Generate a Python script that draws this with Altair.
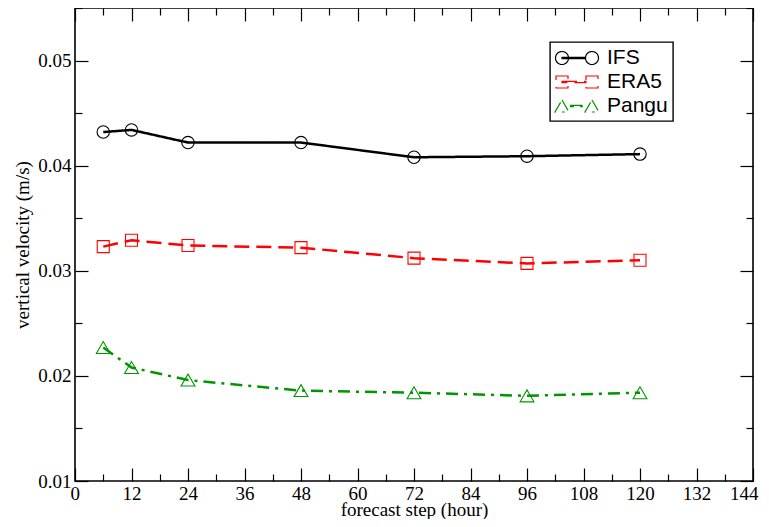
import altair as alt
import pandas as pd

# ---- data ----
steps = [6, 12, 24, 48, 72, 96, 120]
ifs = [0.0432, 0.0434, 0.0422, 0.0422, 0.0408, 0.0409, 0.0411]
era5 = [0.0323, 0.0329, 0.0324, 0.0322, 0.0312, 0.0307, 0.0310]
pangu = [0.0227, 0.0208, 0.0196, 0.0186, 0.0184, 0.0181, 0.0184]

series_names = ["IFS", "ERA5", "Pangu"]
series_values = [ifs, era5, pangu]
colors = ["#000000", "#ff0000", "#009600"]
dashes = [[1, 0], [15, 7], [12, 6, 3, 6]]
marker_shapes = ["circle", "square", "triangle-up"]
marker_sizes = [154, 144, 190]

x_ticks = [0, 6, 12, 18, 24, 30, 36, 42, 48, 54, 60, 66, 72, 78, 84, 90, 96,
           102, 108, 114, 120, 126, 132, 138, 144]
y_ticks = [0.01, 0.015, 0.02, 0.025, 0.03, 0.035, 0.04, 0.045, 0.05, 0.055]


def circ(cx, r=0.65):
    return (f"M {cx - r},0 A {r},{r} 0 1,1 {cx + r},0 "
            f"A {r},{r} 0 1,1 {cx - r},0 Z ")


def sq(cx, h=0.6):
    return (f"M {cx - h},{-h} L {cx + h},{-h} L {cx + h},{h} "
            f"L {cx - h},{h} Z ")


def tri(cx, w=0.7, h=0.6):
    return f"M {cx},{-h} L {cx + w},{h} L {cx - w},{h} Z "


def seg(a, b, t=0.07):
    return f"M {a},{-t} L {b},{-t} L {b},{t} L {a},{t} Z "


legend_paths = [
    circ(-0.4) + seg(-0.4, 1.95) + circ(2.6),
    sq(-0.4) + seg(-0.4, 2.0) + sq(2.6),
    tri(-0.4) + seg(0.45, 1.9) + tri(2.6),
]

rows = []
for name, vals in zip(series_names, series_values):
    for s, v in zip(steps, vals):
        rows.append({"step": s, "value": v, "series": name})
df = pd.DataFrame(rows)

xscale = alt.Scale(domain=[0, 144], nice=False, zero=False)
yscale = alt.Scale(domain=[0.01, 0.055], nice=False, zero=False)
cscale = alt.Scale(domain=series_names, range=colors)

x_major = "datum.value % 12 == 0"
y_major = "abs(round(datum.value * 100) - datum.value * 100) < 0.001"

x_bottom = alt.Axis(
    values=x_ticks, labelExpr=f"{x_major} ? datum.label : ''",
    tickSize={"condition": {"test": x_major, "value": -13}, "value": -7},
    labelPadding=16, labelOverlap=False, labelFlush=True, labelFlushOffset=5,
    domain=False, grid=False, title="forecast step (hour)",
    titleBaseline="alphabetic", titleY=34,
)
y_left = alt.Axis(
    values=y_ticks,
    labelExpr=f"{y_major} ? format(datum.value, '.2f') : ''",
    tickSize={"condition": {"test": y_major, "value": -13}, "value": -7},
    labelPadding=17, labelOverlap=False, labelFlush=False,
    domain=False, grid=False, title="vertical velocity (m/s)", titlePadding=5,
)
x_top = alt.Axis(
    orient="top", values=x_ticks, labels=False, title=None,
    tickSize={"condition": {"test": x_major, "value": -13}, "value": -7},
    domain=False, grid=False,
)
y_right = alt.Axis(
    orient="right", values=y_ticks, labels=False, title=None,
    tickSize={"condition": {"test": y_major, "value": -13}, "value": -7},
    domain=False, grid=False,
)

leg = alt.Legend(
    title=None, orient="none", legendX=475, legendY=34,
    labelFont="Liberation Sans", labelFontSize=21, labelColor="black",
    symbolSize=400, symbolStrokeWidth=1.2, symbolOpacity=1,
    labelOffset=30, rowPadding=3, padding=5,
    strokeColor="black", fillColor="white", cornerRadius=0,
)

legend_layer = alt.Chart(df).mark_point(filled=False, opacity=0).encode(
    x=alt.X("step:Q", scale=xscale, axis=None),
    y=alt.Y("value:Q", scale=yscale, axis=None),
    color=alt.Color("series:N", scale=cscale, legend=leg),
    shape=alt.Shape("series:N",
                    scale=alt.Scale(domain=series_names, range=legend_paths),
                    legend=leg),
)

lines = alt.Chart(df).mark_line(strokeWidth=2.5).encode(
    x=alt.X("step:Q", scale=xscale, axis=x_bottom),
    y=alt.Y("value:Q", scale=yscale, axis=y_left),
    color=alt.Color("series:N", scale=cscale, legend=None),
    strokeDash=alt.StrokeDash(
        "series:N", scale=alt.Scale(domain=series_names, range=dashes),
        legend=None),
)

point_layers = []
for i, name in enumerate(series_names):
    pl = alt.Chart(df).transform_filter(
        alt.datum.series == name
    ).mark_point(
        shape=marker_shapes[i], filled=False, size=marker_sizes[i],
        strokeWidth=1.1, opacity=1,
    ).encode(
        x=alt.X("step:Q", scale=xscale, axis=x_top if i == 0 else None),
        y=alt.Y("value:Q", scale=yscale, axis=y_right if i == 0 else None),
        color=alt.Color("series:N", scale=cscale, legend=None),
    )
    point_layers.append(pl)

chart = alt.layer(legend_layer, lines, *point_layers).resolve_axis(
    x="independent", y="independent"
).properties(
    width=678, height=473,
    autosize=alt.AutoSizeParams(type="none"),
    padding={"left": 67, "top": 0, "right": 8, "bottom": 38},
).configure_view(
    stroke="black", strokeWidth=1.6,
).configure_axis(
    labelFont="Liberation Serif", labelFontSize=19, labelColor="black",
    titleFont="Liberation Serif", titleFontSize=19, titleColor="black",
    titleFontWeight="normal", tickColor="black", tickWidth=1.2,
).configure_legend(
    strokeWidth=1.4,
)

chart.save("out.html", embed_options={"renderer": "svg", "actions": False})
